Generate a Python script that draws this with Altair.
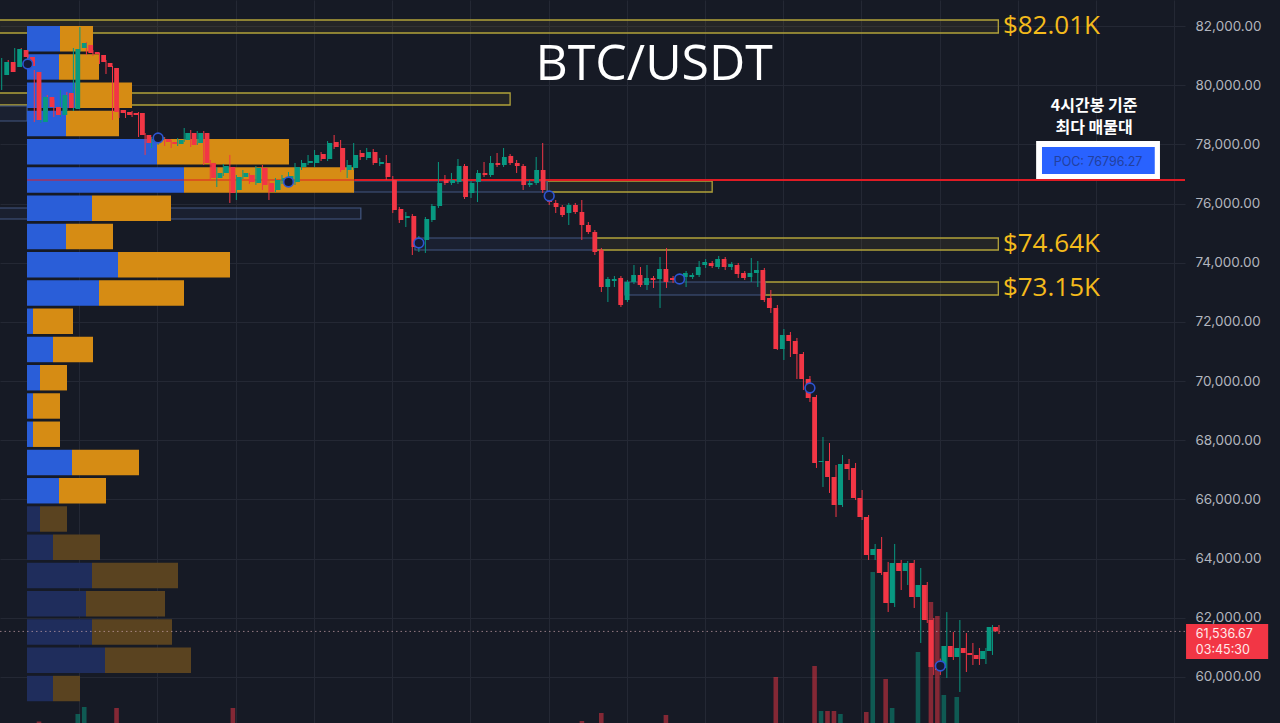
import altair as alt
import pandas as pd

# ---------------- candles (4h BTC/USDT) ----------------
opens = [80344, 80783, 80614, 81189, 80952, 80445, 78755, 79600, 79262, 78992,
         79736, 79195, 81257, 81358, 81121, 81020, 80750, 80581, 79161, 79093,
         79060, 79060, 78316, 78080, 78147, 78181, 78080, 78012, 78147, 78384,
         78046, 78384, 77370, 76863, 77032, 77234, 76457, 76896, 76964, 76694,
         77201, 76694, 76457, 76761, 76727, 76727, 77234, 77370, 77370, 77674,
         77505, 78080, 77877, 77133, 77201, 77708, 77539, 77741, 77336, 77370,
         76795, 75815, 75511, 75578, 74564, 74767, 75443, 75916, 76795, 76694,
         76727, 77268, 76356, 76727, 77032, 76964, 77370, 77302, 77606, 77370,
         77268, 76626, 76694, 77133, 76221, 76018, 75883, 75679, 75950, 75713,
         75274, 75037, 74429, 73178, 73381, 73483, 72739, 73347, 73584, 73246,
         73483, 73449, 73787, 73483, 73415, 73516, 73516, 73584, 73922, 73990,
         73854, 74124, 73854, 73922, 73652, 73516, 73652, 73753, 72807, 72469,
         71083, 71556, 71353, 70914, 70069, 69461, 67263, 67297, 66756, 65810,
         67196, 67061, 66047, 65404, 64120, 64323, 63546, 62498, 63850, 63579,
         63850, 62700, 63106, 61923, 60435, 60301, 61044, 60672, 60977, 60808,
         60740, 60605, 60875, 61686]
highs = [80919, 80851, 81257, 81257, 81020, 80513, 79736, 79668, 79499, 79837,
         79769, 81257, 81966, 81459, 81189, 81088, 80851, 80648, 79229, 79161,
         79127, 79093, 78384, 78248, 78316, 78248, 78147, 78215, 78553, 78485,
         78451, 78451, 77471, 77234, 77336, 77640, 76964, 77133, 77032, 77268,
         77302, 76761, 76863, 76964, 77066, 77370, 77471, 77640, 77809, 77741,
         78113, 78316, 78147, 77471, 78046, 77809, 77877, 77843, 77539, 77640,
         76930, 75883, 75713, 75646, 74902, 75544, 75984, 77403, 76964, 77032,
         77505, 77336, 76761, 77133, 77403, 77606, 77708, 77877, 77674, 77471,
         77336, 76795, 77573, 78046, 76356, 76119, 75950, 76018, 76018, 76119,
         75375, 75105, 74497, 73516, 73550, 73550, 73415, 73922, 73854, 73922,
         73550, 74192, 74497, 73550, 73618, 73719, 73652, 74057, 74124, 74057,
         74226, 74192, 74023, 73990, 73719, 74158, 74057, 73821, 73077, 72570,
         71759, 71657, 71455, 70981, 70170, 69528, 68108, 67905, 67162, 67500,
         67365, 67230, 66317, 65472, 64492, 64728, 63884, 64492, 63951, 63917,
         63951, 63681, 63207, 61990, 60619, 62190, 61517, 61923, 61484, 61146,
         60977, 60977, 61754, 61754]
lows = [79837, 80378, 80513, 80885, 80581, 78755, 78722, 79060, 78924, 78924,
        79161, 79127, 81121, 81020, 80986, 80716, 80378, 78823, 78891, 78891,
        78924, 78248, 77640, 77877, 77978, 77944, 77877, 77944, 78080, 77910,
        77978, 77302, 76795, 76558, 76930, 76018, 76119, 76829, 76660, 76626,
        76457, 76119, 76389, 76660, 76592, 76626, 77133, 77302, 77234, 77437,
        77437, 77843, 77066, 76863, 77133, 77471, 77471, 77302, 77268, 76795,
        75678, 75342, 75206, 74260, 74361, 74328, 75375, 75849, 76626, 76626,
        76660, 76153, 76187, 76051, 76896, 76896, 77234, 77234, 77302, 77032,
        76457, 76558, 76626, 76356, 75950, 75679, 75544, 75274, 75646, 74767,
        74970, 74260, 73009, 72671, 73178, 72503, 72671, 73280, 73178, 73077,
        73145, 72469, 73145, 73314, 73280, 73178, 73449, 73516, 73821, 73821,
        73787, 73753, 73753, 73483, 73415, 73347, 73178, 72671, 72300, 71049,
        70711, 70812, 70069, 69697, 69291, 67061, 66418, 66216, 65404, 65742,
        66655, 65979, 65303, 63951, 63951, 63444, 62193, 62362, 62937, 63106,
        62329, 61146, 61822, 60064, 60064, 59963, 60571, 59489, 60165, 60402,
        60402, 60435, 60740, 61450]
closes = [80783, 80445, 81223, 80952, 80648, 78823, 79600, 79262, 78992, 79668,
          79229, 81223, 81426, 81088, 81054, 80783, 80614, 79093, 79060, 78992,
          78992, 78316, 78046, 78181, 78248, 78080, 78012, 78147, 78384, 77978,
          78384, 77370, 76863, 77032, 77268, 76356, 76896, 77032, 76727, 77201,
          76626, 76389, 76795, 76863, 76930, 77234, 77370, 77437, 77640, 77505,
          78046, 77910, 77133, 77302, 77640, 77573, 77741, 77370, 77403, 76896,
          75781, 75443, 75578, 74530, 74767, 75477, 75916, 76694, 76694, 76795,
          77268, 76221, 76694, 77032, 76964, 77370, 77302, 77573, 77370, 77268,
          76626, 76694, 77133, 76457, 76051, 75883, 75612, 75950, 75713, 75274,
          75037, 74361, 73178, 73449, 73449, 72570, 73347, 73584, 73246, 73483,
          73415, 73787, 73347, 73415, 73516, 73652, 73584, 73854, 74023, 73888,
          74124, 73854, 73956, 73618, 73483, 73652, 73753, 72739, 72469, 71083,
          71556, 71353, 70914, 70069, 69427, 67230, 67297, 66756, 65810, 67196,
          67027, 66047, 65404, 64120, 64323, 63512, 62498, 63850, 63579, 63850,
          62700, 63106, 61923, 60334, 60232, 61044, 60672, 60977, 60808, 60740,
          60605, 60875, 61686, 61537]

# visible volume bars (candle index, volume in arbitrary units)
vol_idx = [5, 11, 12, 17, 35, 89, 92, 102, 119, 125, 126, 127, 128, 129, 133,
           134, 136, 137, 141, 143, 144, 145, 147]
vol_val = [1.5, 9, 16, 15, 15, 2, 10, 8, 46, 57, 12, 12, 12, 9, 11,
           151, 44, 15, 71, 121, 107, 28, 26]

# periodic markers
marker_idx = [4, 24, 44, 64, 84, 104, 124, 144]
marker_price = [80716, 78215, 76727, 74666, 76254, 73449, 69765, 60368]

# volume profile (24 rows, top to bottom)
profile_buy = [33, 32, 48, 39, 130, 157, 65, 39, 91, 72, 6, 26, 13, 6, 6, 45, 32,
               13, 26, 65, 59, 65, 78, 26]
profile_sell = [33, 40, 57, 53, 132, 170, 79, 47, 112, 85, 40, 40, 27, 27, 27, 67, 47,
                27, 47, 86, 79, 80, 86, 27]
profile_in_value_area = [True] * 17 + [False] * 7
profile_poc = 76796.27
profile_poc_row = 5
profile_bin = 955

# zones
zone_x0 = [-0.5, -0.5, -0.5, -0.5, 54.0, 83.7, 63.4, 91.0, 95.6, 117.1]
zone_x1 = [152.9, 78.0, 3.9, 55.1, 83.7, 109.0, 91.0, 152.9, 117.1, 152.9]
zone_lo = [81764, 79330, 78789, 75477, 76389, 76389, 74429, 74429, 72908, 72908]
zone_hi = [82203, 79736, 79296, 75849, 76761, 76761, 74835, 74835, 73348, 73348]
zone_kind = ["yellow", "yellow", "blue", "blue", "blue", "yellow", "blue", "yellow", "blue", "yellow"]

level_labels = ["$82.01K", "$74.64K", "$73.15K"]
level_prices = [82010, 74640, 73150]

last_price = 61536.67
countdown = "03:45:30"

# ---------------- frames ----------------
n = len(opens)
candles = pd.DataFrame({"i": list(range(n)), "open": opens, "high": highs,
                        "low": lows, "close": closes})
candles["dir"] = ["up" if c >= o else "down" for o, c in zip(opens, closes)]
vol = pd.DataFrame({"i": vol_idx, "v": vol_val,
                    "dir": [candles["dir"][k] for k in vol_idx]})
vol["zero"] = 0
markers = pd.DataFrame({"i": marker_idx, "p": marker_price})
zones = pd.DataFrame({"x0": zone_x0, "x1": zone_x1, "lo": zone_lo, "hi": zone_hi, "kind": zone_kind})

rows = []
for k, (b, s, va) in enumerate(zip(profile_buy, profile_sell, profile_in_value_area)):
    c = profile_poc + (profile_poc_row - k) * profile_bin
    rows.append({"a": 0, "b": b, "lo": c - 430, "hi": c + 430,
                 "col": "#2a5ed8" if va else "#1f2d5c"})
    rows.append({"a": b, "b": b + s, "lo": c - 430, "hi": c + 430,
                 "col": "#d68c14" if va else "#5a4320"})
profile = pd.DataFrame(rows)

X_DOMAIN = [-0.26, 181.54]
Y_DOMAIN = [58441, 82879]


def xs():
    return alt.Scale(domain=X_DOMAIN, nice=False, zero=False)


def ys():
    return alt.Scale(domain=Y_DOMAIN, nice=False, zero=False)


def X(f):
    return alt.X(f, type="quantitative", scale=xs(), axis=None)


def Y(f):
    return alt.Y(f, type="quantitative", scale=ys(), axis=None)


dir_color = alt.Color("dir:N", scale=alt.Scale(domain=["up", "down"], range=["#089981", "#f23645"]), legend=None)

grid_x = [11.9 + 12 * k for k in range(15)]
y_ticks = list(range(60000, 82001, 2000))

# zones
z_y = alt.Chart(zones).transform_filter("datum.kind == 'yellow'").mark_rect(
    fill="#c9b431", fillOpacity=0.08, stroke="#b1a23a", strokeWidth=1.3
).encode(x=X("x0"), x2="x1", y=Y("lo"), y2="hi")
z_b = alt.Chart(zones).transform_filter("datum.kind == 'blue'").mark_rect(
    fill="#3b5282", fillOpacity=0.12, stroke="#435781", strokeWidth=1.2
).encode(x=X("x0"), x2="x1", y=Y("lo"), y2="hi")

# volume
vol_layer = alt.Chart(vol).mark_bar(size=4.6, opacity=0.5).encode(
    x=X("i"),
    y=alt.Y("v:Q", scale=alt.Scale(domain=[0, 200], range=[723, 523], nice=False), axis=None),
    y2="zero",
    color=dir_color,
)

# profile
prof_layer = alt.Chart(profile).mark_rect().encode(
    x=alt.X("a:Q", scale=alt.Scale(domain=[0, 400], range=[27, 427], nice=False, zero=False), axis=None),
    x2="b",
    y=Y("lo"), y2="hi",
    fill=alt.Fill("col:N", scale=None),
)

# POC line
poc_df = pd.DataFrame({"x0": [3.9, 54.1], "x1": [54.1, 181.54], "y": [profile_poc, profile_poc],
                       "op": [0.5, 1.0]})
poc_line = alt.Chart(poc_df).mark_rule(color="#e01b24", strokeWidth=2).encode(
    x=X("x0"), x2="x1", y=Y("y"), opacity=alt.Opacity("op:Q", scale=None))

# current price dotted line
cp_df = pd.DataFrame({"x0": [-0.26], "x1": [181.8], "y": [last_price]})
cp_line = alt.Chart(cp_df).mark_rule(color="#c7a3a9", strokeWidth=1, strokeDash=[1.5, 3], opacity=0.7).encode(
    x=X("x0"), x2="x1", y=Y("y"))

# candles
wick = alt.Chart(candles).mark_rule(strokeWidth=1).encode(
    x=alt.X("i:Q", scale=xs(), axis=alt.Axis(values=grid_x, labels=False, ticks=False, domain=False,
                                              grid=True, gridColor="#242834", gridWidth=1, title=None)),
    y=alt.Y("low:Q", scale=ys(), axis=alt.Axis(orient="right", values=y_ticks, format=",.2f",
                                               labelColor="#b2b5be", labelFont="Inter", labelFontSize=13.5,
                                               labelPadding=10, tickSize=0, domain=False, grid=True,
                                               gridColor="#242834", gridWidth=1, title=None,
                                               labelAlign="left")),
    y2="high:Q",
    color=dir_color,
)
body = alt.Chart(candles).mark_bar(size=4.8).encode(x=X("i"), y=Y("open"), y2="close", color=dir_color)

mark_layer = alt.Chart(markers).mark_point(shape="circle", size=95, filled=True, fill="#141a36",
                                           stroke="#2d55d2", strokeWidth=1.6, opacity=1).encode(
    x=X("i"), y=Y("p"))

# level labels
lv = pd.DataFrame({"x": [153.6] * 3, "y": level_prices, "t": level_labels})
lv_text = alt.Chart(lv).mark_text(font="Open Sans", fontSize=26, color="#f4bb1c", align="left",
                                  baseline="middle").encode(x=X("x"), y=Y("y"), text="t:N")

# title
tt = pd.DataFrame({"x": [100.1], "y": [80682], "t": ["BTC/USDT"]})
title = alt.Chart(tt).mark_text(font="Open Sans", fontSize=50, color="#ffffff", align="center",
                                baseline="middle").encode(x=X("x"), y=Y("y"), text="t:N")

# annotation
an = pd.DataFrame({"x": [167.6, 167.6], "y": [79296, 78553], "t": ["4시간봉 기준", "최다 매물대"]})
ann = alt.Chart(an).mark_text(font="Noto Sans CJK KR", fontSize=16, fontWeight="bold", color="#ffffff",
                              align="center", baseline="middle").encode(x=X("x"), y=Y("y"), text="t:N")

box_df = pd.DataFrame({"x0": [158.7], "x1": [177.7], "y0": [76829], "y1": [78113]})
box_white = alt.Chart(box_df).mark_rect(fill="#ffffff").encode(x=X("x0"), x2="x1", y=Y("y0"), y2="y1")
ibox_df = pd.DataFrame({"x0": [159.6], "x1": [176.9], "y0": [76998], "y1": [77910]})
box_blue = alt.Chart(ibox_df).mark_rect(fill="#2962ff").encode(x=X("x0"), x2="x1", y=Y("y0"), y2="y1")
poc_t = pd.DataFrame({"x": [168.2], "y": [77403], "t": [f"POC: {profile_poc:.2f}"]})
poc_text = alt.Chart(poc_t).mark_text(font="Inter", fontSize=12.5, color="#22409e", align="center",
                                      baseline="middle").encode(x=X("x"), y=Y("y"), text="t:N")

# price tag
tag_df = pd.DataFrame({"x0": [181.7], "x1": [194.3], "y0": [60605], "y1": [61788]})
tag = alt.Chart(tag_df).mark_rect(fill="#f23645").encode(x=X("x0"), x2="x1", y=Y("y0"), y2="y1")
tag_t = pd.DataFrame({"x": [183.2, 183.2], "y": [61450, 60910],
                      "t": [f"{last_price:,.2f}", countdown]})
tag_text = alt.Chart(tag_t).mark_text(font="Inter", fontSize=12.5, color="#ffe9ea", align="left",
                                      baseline="middle").encode(x=X("x"), y=Y("y"), text="t:N")

chart = alt.layer(
    wick.mark_rule(strokeWidth=1, opacity=0),  # axis/grid carrier
    z_y, z_b, vol_layer, prof_layer, poc_line, cp_line,
    wick.encode(x=X("i"), y=Y("low")), body, mark_layer,
    lv_text, title, ann, box_white, box_blue, poc_text, tag, tag_text,
).resolve_scale(x="independent", y="independent").properties(
    width=1185, height=723,
    autosize=alt.AutoSizeParams(type="none"),
    padding={"left": 0, "top": 0, "right": 95, "bottom": 0},
    background="#161a25",
).configure_view(stroke=None)

chart.save("out.html", embed_options={"renderer": "svg", "actions": False})
